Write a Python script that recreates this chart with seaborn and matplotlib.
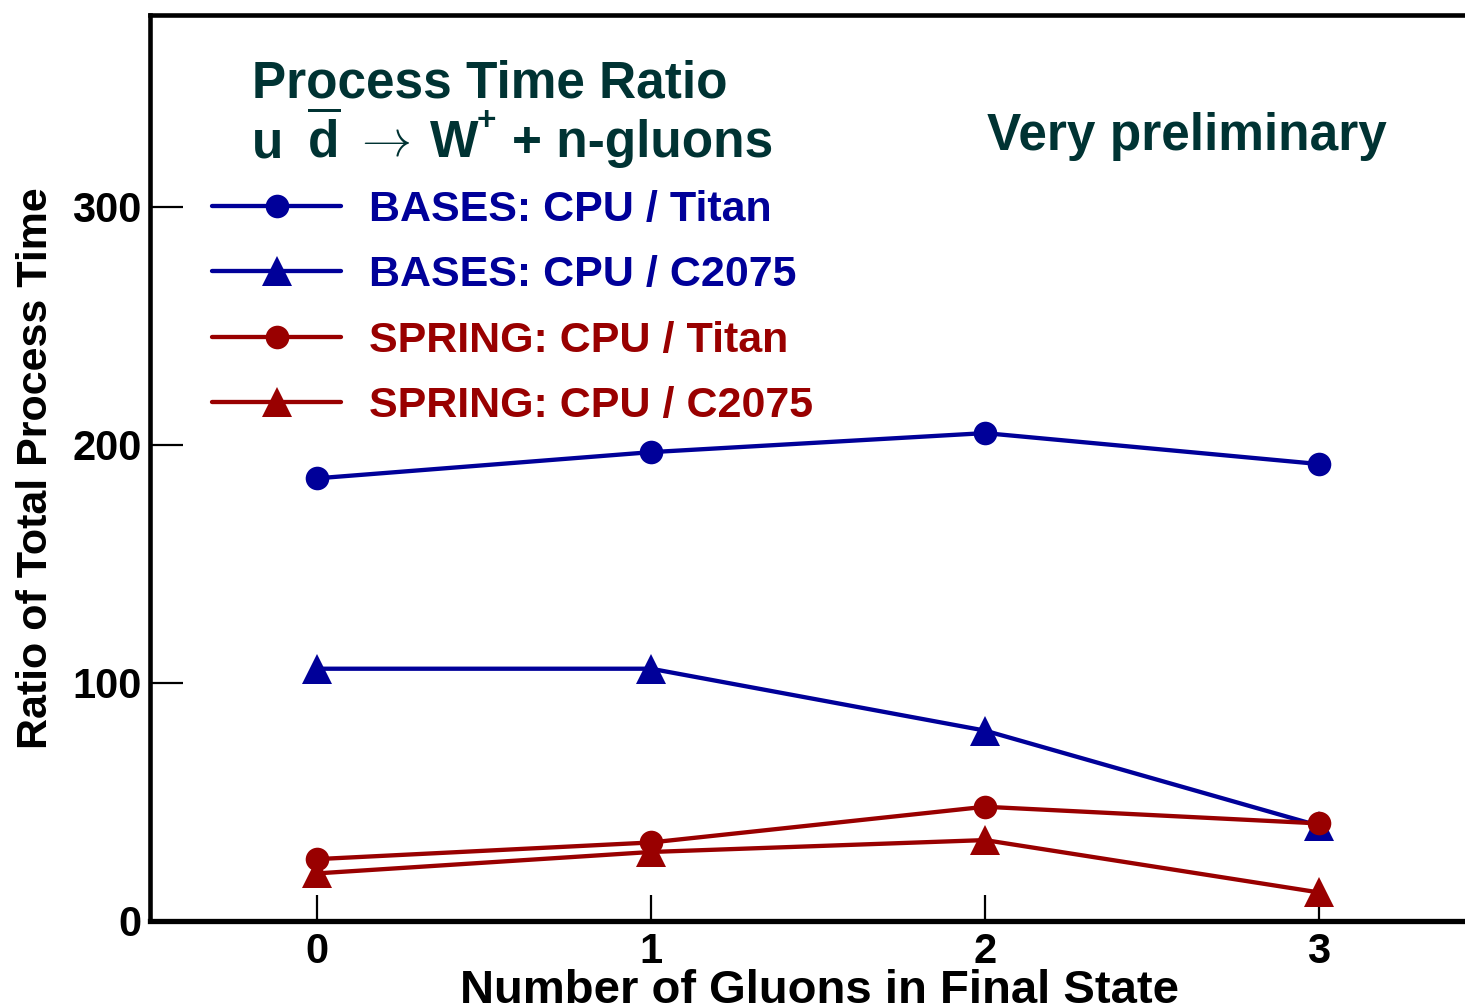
import numpy as np
import pandas as pd
import matplotlib
matplotlib.use("Agg")
import matplotlib.pyplot as plt
import seaborn as sns

# ---- data ----
n_gluons = [0, 1, 2, 3]
bases_titan = [186, 197, 205, 192]
bases_c2075 = [106, 106, 80, 40]
spring_titan = [26, 33, 48, 41]
spring_c2075 = [20, 29, 34, 12]
series_names = ["BASES: CPU / Titan", "BASES: CPU / C2075",
                "SPRING: CPU / Titan", "SPRING: CPU / C2075"]
y_ticks = [0, 100, 200, 300]

BLUE = "#000099"
RED = "#990000"
TEAL = "#003333"

df = pd.concat([
    pd.DataFrame({"n": n_gluons, "ratio": vals, "series": name})
    for name, vals in zip(series_names, [bases_titan, bases_c2075, spring_titan, spring_c2075])
], ignore_index=True)

sns.set_theme(style="white")
plt.rcParams["font.family"] = ["Liberation Sans", "DejaVu Sans"]
plt.rcParams["font.weight"] = "bold"

W, H = 1465, 1007
fig = plt.figure(figsize=(W / 100, H / 100), dpi=100)
ax = fig.add_axes([150 / W, 1 - 921 / H, 1320 / W, (921 - 15) / H])

palette = {series_names[0]: BLUE, series_names[1]: BLUE,
           series_names[2]: RED, series_names[3]: RED}
markers = {series_names[0]: "o", series_names[1]: "^",
           series_names[2]: "o", series_names[3]: "^"}

sns.lineplot(data=df, x="n", y="ratio", hue="series", style="series",
             hue_order=series_names, style_order=series_names,
             palette=palette, markers=markers, dashes=False,
             linewidth=3.1, markersize=17, markeredgewidth=0,
             legend=False, ax=ax, zorder=3)

for ln, name in zip(ax.lines, series_names):
    if markers[name] == "^":
        ln.set_markersize(21)

ax.set_xlim(-0.5, -0.5 + 1320 / 334)
ax.set_ylim(0, (921 - 15) / 2.38)
ax.set_xticks(n_gluons)
ax.set_yticks(y_ticks)
ax.tick_params(axis="both", direction="in", width=1.6, color="black",
               labelsize=30, labelcolor="black", bottom=True, left=True,
               top=False, right=False)
ax.tick_params(axis="x", pad=8, length=19)
ax.tick_params(axis="y", pad=6, length=24)
for lab in ax.get_xticklabels() + ax.get_yticklabels():
    lab.set_fontweight("bold")

for side in ["left", "bottom", "top", "right"]:
    ax.spines[side].set_color("black")
    ax.spines[side].set_linewidth(3.3)
ax.spines["bottom"].set_linewidth(3.8)
ax.spines["right"].set_visible(False)

ax.set_xlabel("Number of Gluons in Final State", fontsize=34, fontweight="bold",
              color="black", labelpad=-2)
ax.xaxis.label.set_x((819 - 150) / 1320)
ax.set_ylabel("Ratio of Total Process Time", fontsize=31, fontweight="bold",
              color="black", labelpad=12)

# legend
leg = ax.legend(handles=ax.lines[:4], labels=series_names, loc="upper left",
                bbox_to_anchor=(212 / W, 1 - 190 / H), bbox_transform=fig.transFigure,
                frameon=False, handlelength=3.0, handletextpad=0.65,
                labelspacing=0.59, borderpad=0, borderaxespad=0, numpoints=1,
                prop={"weight": "bold", "size": 31})
for txt, name in zip(leg.get_texts(), series_names):
    txt.set_color(palette[name])

def ftext(x, y, s, **kw):
    fig.text(x / W, 1 - y / H, s, va="baseline", ha="left", **kw)

ftext(252, 97, "Process Time Ratio", fontsize=37, fontweight="bold", color=TEAL)
ftext(252, 157, "u", fontsize=37, fontweight="bold", color=TEAL)
ftext(307, 157, r"$\overline{\mathregular{d}}$", fontsize=37, fontweight="bold", color=TEAL)
ftext(353, 156, r"$\rightarrow$", fontsize=36, color=TEAL, math_fontfamily="cm")
ftext(430, 157, "W", fontsize=37, fontweight="bold", color=TEAL)
ftext(477, 130, "+", fontsize=24, fontweight="bold", color=TEAL)
ftext(512, 157, "+ n-gluons", fontsize=37, fontweight="bold", color=TEAL)
ftext(987, 150, "Very preliminary", fontsize=37, fontweight="bold", color=TEAL)

fig.savefig("out.png", dpi=100)
